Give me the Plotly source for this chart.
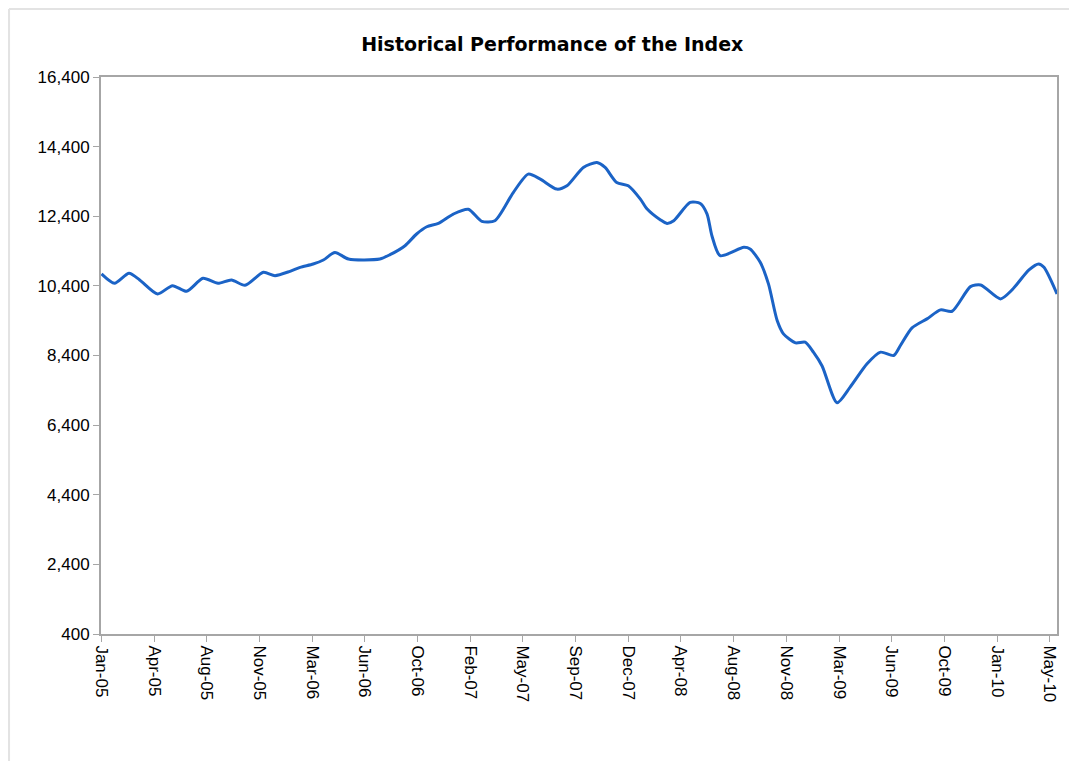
import pandas as pd
import plotly.graph_objects as go

# Days after 2005-01-01 and index level
day_offset = [0, 27, 57, 79, 116, 147, 176, 210, 241, 269, 297, 335, 359, 390, 411,
              438, 459, 483, 511, 576, 597, 628, 652, 673, 697, 728, 759, 787, 814,
              852, 883, 908, 942, 963, 997, 1025, 1042, 1066, 1090, 1115, 1129, 1156,
              1170, 1184, 1218, 1239, 1253, 1263, 1280, 1329, 1342, 1363, 1380, 1398,
              1411, 1436, 1456, 1473, 1491, 1522, 1549, 1584, 1612, 1639, 1653, 1677,
              1708, 1736, 1760, 1798, 1819, 1860, 1884, 1919, 1939, 1950, 1977]
index_level = [10743, 10473, 10760, 10571, 10169, 10407, 10244, 10617, 10473, 10571,
               10416, 10789, 10694, 10818, 10932, 11028, 11143, 11362, 11172, 11172,
               11296, 11554, 11890, 12099, 12194, 12463, 12600, 12251, 12271, 13082,
               13610, 13467, 13180, 13275, 13801, 13943, 13801, 13370, 13275, 12893,
               12607, 12300, 12194, 12271, 12798, 12767, 12463, 11841, 11267, 11506,
               11459, 11076, 10456, 9404, 9022, 8764, 8783, 8496, 8100, 7044, 7491,
               8162, 8496, 8400, 8687, 9194, 9452, 9710, 9671, 10378, 10427, 10026,
               10285, 10857, 11028, 10932, 10169]

start_date = "2005-01-01"
tick_step_days = 109
n_ticks = 19
y_ticks = [400, 2400, 4400, 6400, 8400, 10400, 12400, 14400, 16400]

dates = pd.Timestamp(start_date) + pd.to_timedelta(day_offset, unit="D")
tick_dates = pd.date_range(start_date, periods=n_ticks, freq=f"{tick_step_days}D")

fig = go.Figure()
fig.add_trace(go.Scatter(
    x=dates, y=index_level, mode="lines",
    line=dict(color="#1b63c6", width=3, shape="spline", smoothing=0.7),
    showlegend=False, hoverinfo="skip",
))

axis_col = "#a6a6a6"
font_fam = "Liberation Sans, Arial, sans-serif"

fig.update_layout(
    width=1069, height=753,
    paper_bgcolor="white", plot_bgcolor="white",
    margin=dict(l=93, r=20, t=69, b=127),
    title=dict(text="<b>Historical Performance of the Index</b>",
               x=0.472, xanchor="center", xref="paper", y=0.952, yanchor="middle",
               font=dict(family="DejaVu Sans, sans-serif", size=19, color="black")),
    font=dict(family=font_fam, size=17, color="black"),
    xaxis=dict(
        type="date",
        range=[pd.Timestamp(start_date) - pd.Timedelta(days=1), pd.Timestamp("2010-06-01")],
        tickvals=tick_dates, tickformat="%b-%y", tickangle=90,
        ticks="outside", ticklen=6, tickcolor=axis_col, tickwidth=1,
        showline=True, linecolor=axis_col, linewidth=2, mirror=True,
        showgrid=False, zeroline=False,
        tickfont=dict(family=font_fam, size=17, color="black"),
    ),
    yaxis=dict(
        range=[400, 16400], tickvals=y_ticks, tickformat=",d",
        ticks="outside", ticklen=6, tickcolor=axis_col, tickwidth=1,
        showline=True, linecolor=axis_col, linewidth=2, mirror=True,
        showgrid=False, zeroline=False,
        tickfont=dict(family=font_fam, size=17, color="black"),
    ),
    shapes=[
        dict(type="line", xref="paper", yref="paper", x0=-0.0962, x1=1.03,
             y0=1.122, y1=1.122, line=dict(color="#e3e3e3", width=2)),
        dict(type="line", xref="paper", yref="paper", x0=-0.0962, x1=-0.0962,
             y0=1.122, y1=-0.24, line=dict(color="#e3e3e3", width=2)),
    ],
)

fig.write_html("out.html")
